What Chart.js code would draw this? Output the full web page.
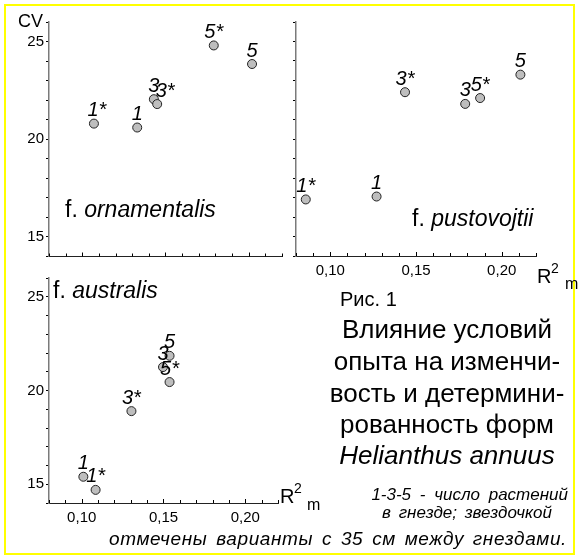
<!DOCTYPE html>
<html><head><meta charset="utf-8">
<script src="https://cdn.jsdelivr.net/npm/chart.js@4/dist/chart.umd.min.js"></script>
<style>
html,body{margin:0;padding:0;background:#fff;}
#wrap{position:relative;width:579px;height:559px;overflow:hidden;background:#fff;font-family:"Liberation Sans",Arial,sans-serif;color:#000;}
#frame{position:absolute;left:4px;top:4px;width:571px;height:551px;box-sizing:border-box;border:2px solid #ffff00;}
canvas{position:absolute;}
.t{position:absolute;white-space:nowrap;line-height:1;}
</style></head><body>
<div id="wrap">
<div id="frame"></div>
<canvas id="c1" width="290" height="270" style="left:0;top:0"></canvas>
<canvas id="c2" width="289" height="290" style="left:290px;top:0"></canvas>
<canvas id="c3" width="290" height="299" style="left:0;top:260px"></canvas>
</div>
<script>
// ---- data ----
const labels1 = ['1*','1','3','3*','5*','5'];
const x1 = [0.107, 0.133, 0.143, 0.145, 0.179, 0.202];
const y1 = [20.8, 20.6, 22.05, 21.8, 24.8, 23.85];

const labels2 = ['1*','1','3*','3','5*','5'];
const x2 = [0.0857, 0.127, 0.1436, 0.1787, 0.1874, 0.2109];
const y2 = [16.9, 17.05, 22.4, 21.8, 22.1, 23.3];

const labels3 = ['1','1*','3*','3','5','5*'];
const x3 = [0.101, 0.1085, 0.1304, 0.1497, 0.1537, 0.1537];
const y3 = [15.4, 14.7, 18.9, 21.25, 21.85, 20.45];

const xMin = 0.08, xMax = 0.22, xStep = 0.01;
const yMin = 14, yMax = 26, yStep = 1;
const yLabelled = [15, 20, 25];
const xLabelled = [0.10, 0.15, 0.20];

const FONT = '"Liberation Sans", Arial, sans-serif';

const labelPlugin = {
  id: 'ptlabels',
  afterDatasetsDraw(chart, args, opts) {
    const ctx = chart.ctx;
    const meta = chart.getDatasetMeta(0);
    ctx.save();
    ctx.font = 'italic 20px ' + FONT;
    ctx.fillStyle = '#000';
    ctx.textAlign = 'center';
    ctx.textBaseline = 'alphabetic';
    meta.data.forEach((el, i) => {
      const t = opts.labels[i];
      const dx = (opts.dx && opts.dx[i]) || 0;
      ctx.fillText(t, el.x + dx, el.y - 7.5);
    });
    ctx.restore();
  },
  afterDraw(chart) {
    const ctx = chart.ctx, xs = chart.scales.x, yb = chart.chartArea.bottom;
    ctx.save();
    ctx.strokeStyle = '#000';
    ctx.lineWidth = 1;
    ctx.beginPath();
    xs.ticks.forEach(t => {
      const px = Math.round(xs.getPixelForValue(t.value)) + 0.5;
      const major = xLabelled.some(v => Math.abs(v - t.value) < 1e-6);
      ctx.moveTo(px, yb);
      ctx.lineTo(px, yb - (major ? 4 : 3));
    });
    ctx.stroke();
    ctx.restore();
  }
};

function makePanel(id, xs, ys, labs, o) {
  return new Chart(document.getElementById(id), {
    type: 'scatter',
    data: { datasets: [{
      data: xs.map((x, i) => ({ x, y: ys[i] })),
      pointRadius: 4.5, pointHoverRadius: 4.5,
      backgroundColor: '#bebebe', borderColor: '#222', borderWidth: 1,
      clip: false
    }]},
    options: {
      responsive: false, animation: false, events: [],
      layout: { padding: o.padding },
      plugins: { legend: { display: false }, tooltip: { enabled: false },
        ptlabels: { labels: labs, dx: o.dx } },
      scales: {
        x: {
          type: 'linear', min: xMin, max: xMax,
          afterFit: s => { s.height = o.xh; },
          grid: { display: false, drawTicks: false },
          border: { display: true, color: '#222', width: 1 },
          ticks: {
            stepSize: xStep, autoSkip: false, maxRotation: 0, padding: 6,
            color: '#000', font: { family: FONT, size: 15 },
            callback: v => (o.showX && xLabelled.some(t => Math.abs(t - v) < 1e-6)) ? v.toFixed(2).replace('.', ',') : ''
          }
        },
        y: {
          type: 'linear', min: yMin, max: yMax,
          afterFit: s => { s.width = o.yw; },
          grid: { display: true, drawOnChartArea: false, drawTicks: true, tickLength: 3, color: '#000', lineWidth: 1 },
          border: { display: true, color: '#7a7a7a', width: 1.5 },
          ticks: {
            stepSize: yStep, autoSkip: false, padding: 2,
            color: '#000', font: { family: FONT, size: 15 },
            callback: v => (o.showY && yLabelled.includes(v)) ? String(v) : ''
          }
        }
      }
    },
    plugins: [labelPlugin]
  });
}

makePanel('c1', x1, y1, labels1, { padding: { left: 0, top: 22, right: 8, bottom: 0 }, xh: 13.5, yw: 49, showX: false, showY: true, dx: [3, 0, 0, 8, 0, 0] });
makePanel('c2', x2, y2, labels2, { padding: { left: 0, top: 22, right: 43, bottom: 0 }, xh: 34, yw: 6, showX: true, showY: false, dx: [0, 0, 0, 0, 0, 0] });
makePanel('c3', x3, y3, labels3, { padding: { left: 0, top: 18, right: 12, bottom: 0 }, xh: 56, yw: 49, showX: true, showY: true, dx: [0, 0, 0, 0, 0, 0] });

// ---- text ----
const wrap = document.getElementById('wrap');
function put(html, x, base, size, o) {
  o = o || {};
  const d = document.createElement('div');
  d.className = 't';
  d.style.fontSize = size + 'px';
  d.style.top = (base - 0.8465 * size) + 'px';
  if (o.align === 'center') { d.style.left = x + 'px'; d.style.transform = 'translateX(-50%)'; }
  else if (o.align === 'right') { d.style.right = (579 - x) + 'px'; }
  else d.style.left = x + 'px';
  if (o.italic) d.style.fontStyle = 'italic';
  if (o.ws) d.style.wordSpacing = o.ws + 'px';
  if (o.ls) d.style.letterSpacing = o.ls + 'px';
  d.innerHTML = html;
  wrap.appendChild(d);
}
put('CV', 18, 27, 18);
put('f. <i>ornamentalis</i>', 65, 217, 23);
put('f. <i>pustovojtii</i>', 412, 226, 23);
put('f. <i>australis</i>', 53, 298, 23);
put('R', 537, 283, 20); put('2', 551, 273, 14); put('m', 565, 290, 16);
put('R', 280, 503, 20); put('2', 294, 493, 14); put('m', 307, 511, 16);
put('Рис. 1', 340, 306, 20);
const titleLines = ['Влияние условий', 'опыта на изменчи-', 'вость и детермини-', 'рованность форм', '<i>Helianthus annuus</i>'];
const titleBase = [338, 370, 402, 433, 464];
titleLines.forEach((t, i) => put(t, 447, titleBase[i], 26, { align: 'center' }));
put('1-3-5 - число растений', 568, 500, 17, { align: 'right', italic: true, ws: 4 });
put('в гнезде; звездочкой', 467, 518, 17, { align: 'center', italic: true, ws: 3 });
put('отмечены варианты с 35 см между гнездами.', 567, 545, 19, { align: 'right', italic: true, ls: 0.6, ws: 3 });
</script>
</body></html>
